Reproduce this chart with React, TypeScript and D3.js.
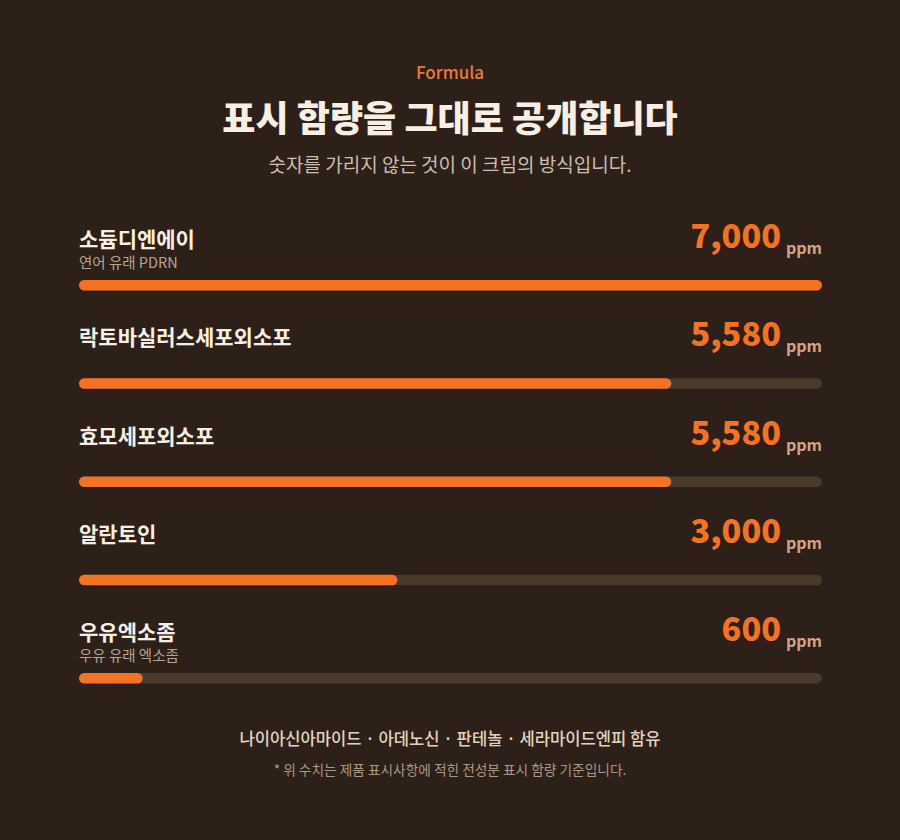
import React from "react";
import * as d3 from "d3";

const names = ["소듐디엔에이", "락토바실러스세포외소포", "효모세포외소포", "알란토인", "우유엑소좀"];
const subLabels = ["연어 유래 PDRN", "", "", "", "우유 유래 엑소좀"];
const values = [7000, 5580, 5580, 3000, 600];
const unit = "ppm";
const eyebrow = "Formula";
const title = "표시 함량을 그대로 공개합니다";
const subtitle = "숫자를 가리지 않는 것이 이 크림의 방식입니다.";
const footer = "나이아신아마이드 · 아데노신 · 판테놀 · 세라마이드엔피 함유";
const note = "* 위 수치는 제품 표시사항에 적힌 전성분 표시 함량 기준입니다.";

const W = 900;
const H = 840;
const FONT = "'Noto Sans CJK KR', 'Noto Sans', sans-serif";

export default function App() {
  const left = 79;
  const right = 822;
  const x = d3.scaleLinear().domain([0, d3.max(values) as number]).range([left, right]);
  const rowStep = 98.25;
  const firstBarY = 280;
  const barH = 10.5;
  const fmt = d3.format(",");

  return (
    <svg
      width={W}
      height={H}
      style={{ position: "absolute", left: 0, top: 0, display: "block" }}
      fontFamily={FONT}
    >
      <rect x={0} y={0} width={W} height={H} fill="#2c2018" />
      <text x={450} y={79} textAnchor="middle" fill="#eb7a30" fontSize={17} fontWeight={500}>
        {eyebrow}
      </text>
      <text x={450} y={132} textAnchor="middle" fill="#f7efe4" fontSize={36} fontWeight={900}>
        {title}
      </text>
      <text x={450} y={172} textAnchor="middle" fill="#cdbfae" fontSize={19} fontWeight={400}>
        {subtitle}
      </text>

      {values.map((v, i) => {
        const by = firstBarY + i * rowStep;
        return (
          <g key={i}>
            <text x={left} y={by - 33} fill="#f7efe4" fontSize={21} fontWeight={700}>
              {names[i]}
            </text>
            {subLabels[i] && (
              <text x={left} y={by - 12} fill="#b5a595" fontSize={14.5} fontWeight={400}>
                {subLabels[i]}
              </text>
            )}
            <text x={781} y={by - 32} textAnchor="end" fill="#f47322" fontSize={32.5} fontWeight={800}>
              {fmt(v)}
            </text>
            <text x={786} y={by - 26} fill="#d8a286" fontSize={16} fontWeight={700}>
              {unit}
            </text>
            <rect x={left} y={by} width={right - left} height={barH} rx={barH / 2} fill="#4a3a2c" />
            <rect x={left} y={by} width={x(v) - left} height={barH} rx={barH / 2} fill="#f47322" />
          </g>
        );
      })}

      <text x={450} y={745} textAnchor="middle" fill="#e2d3c0" fontSize={16.6} fontWeight={500}>
        {footer}
      </text>
      <text x={450} y={775} textAnchor="middle" fill="#a99887" fontSize={13.7} fontWeight={400}>
        {note}
      </text>
    </svg>
  );
}
